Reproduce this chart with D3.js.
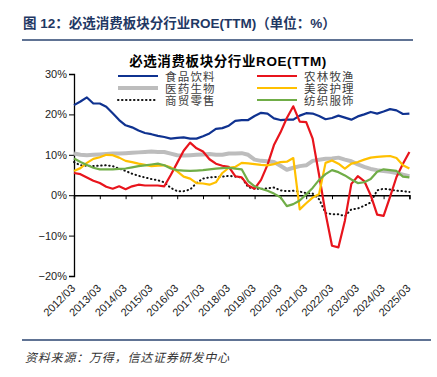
<!DOCTYPE html>
<html>
<head>
<meta charset="utf-8">
<script src="https://cdn.jsdelivr.net/npm/d3@7"></script>
<style>
  body { margin: 0; background: #fff; }
  svg text { font-family: Arial, "Liberation Sans", "Noto Sans CJK SC", sans-serif; }
</style>
</head>
<body>
<div class="chart"></div>
<script>
// quarterly, 2012/03 .. 2025/03
const yearLabels = ["2012/03","2013/03","2014/03","2015/03","2016/03","2017/03","2018/03",
    "2019/03","2020/03","2021/03","2022/03","2023/03","2024/03","2025/03"];
const yTicks = [-20, -10, 0, 10, 20, 30];

const food = [22.3,23.2,24.2,22.7,22.7,21.9,20.3,18.6,17.3,16.8,16.0,15.4,15.1,14.7,14.4,14.0,14.2,14.3,14.0,14.0,
    14.6,15.3,16.4,16.6,17.2,18.4,18.6,18.6,19.6,20.4,20.2,19.0,18.6,18.7,18.7,19.7,20.3,20.2,19.6,18.8,
    19.1,19.7,19.2,18.7,19.5,20.0,20.6,20.2,20.7,21.3,21.0,20.1,20.2];
const pharma = [10.3,10.0,9.9,10.0,10.1,10.2,10.3,10.3,10.4,10.5,10.6,10.7,10.8,10.7,10.7,10.3,9.9,9.8,9.9,10.0,
    10.1,10.2,10.0,10.0,10.3,10.3,10.4,10.0,8.8,8.5,8.4,8.2,7.3,6.3,6.8,7.2,7.4,8.5,8.8,9.0,
    9.1,9.3,8.8,8.4,7.6,7.0,6.5,6.2,6.0,5.8,5.5,5.1,4.7];
const retail = [8.2,7.4,7.3,7.2,7.3,7.4,7.2,6.6,6.0,5.3,4.8,4.4,4.0,3.7,3.2,1.8,1.0,1.0,1.4,3.0,
    4.1,4.4,4.5,4.6,4.8,4.6,4.4,2.0,1.6,1.6,1.7,1.9,1.2,1.0,1.1,0.9,0.5,0.4,-1.0,-4.4,
    -4.7,-4.7,-5.2,-3.5,-3.3,-2.6,-1.8,1.2,1.6,1.4,1.1,1.0,0.8];
const agri = [5.5,5.2,4.4,3.6,3.0,2.1,1.6,2.2,1.5,2.2,2.6,2.4,2.4,2.4,2.2,5.0,8.0,11.0,13.0,11.6,
    10.8,8.9,7.8,7.3,7.0,4.7,4.4,2.4,1.6,3.8,7.5,12.4,15.5,19.1,22.0,18.2,18.1,14.0,5.0,-4.5,
    -12.5,-12.9,-6.3,2.8,4.7,3.5,0.0,-4.8,-5.1,-0.4,4.5,7.8,10.7];
const beauty = [6.0,6.7,8.0,9.0,9.4,10.0,9.9,9.3,8.5,8.2,7.8,7.5,7.2,7.3,7.4,6.9,5.9,4.6,4.1,3.0,
    2.9,2.6,3.2,5.5,6.8,7.0,8.0,7.9,7.7,7.5,7.4,7.7,8.2,8.3,9.2,-3.5,-2.0,-0.6,0.3,8.0,
    8.6,7.8,6.6,7.8,8.2,8.8,9.3,9.5,9.6,9.7,9.2,7.4,6.6];
const textile = [9.1,8.2,7.5,6.8,6.4,6.4,6.4,6.5,6.6,6.9,7.2,7.4,7.6,7.8,7.4,6.6,6.2,6.1,6.0,6.1,
    6.2,6.4,6.6,6.7,6.8,6.6,6.4,3.5,2.2,1.6,1.1,0.4,-0.5,-2.7,-2.2,-1.3,0.2,1.8,3.8,5.2,
    6.2,5.7,4.9,3.9,3.0,3.2,4.0,5.8,6.4,6.2,6.0,4.6,4.4];

const series = [
    { name: "食品饮料", values: food, color: "#0f3290", width: 2.2 },
    { name: "医药生物", values: pharma, color: "#bdbdbd", width: 4 },
    { name: "商贸零售", values: retail, color: "#111", width: 2, dash: "0.5,3.5" },
    { name: "农林牧渔", values: agri, color: "#e8141c", width: 2.2 },
    { name: "美容护理", values: beauty, color: "#ffc000", width: 2.2 },
    { name: "纺织服饰", values: textile, color: "#70ad47", width: 2.2 }
];

const width = 437, height = 377;
const svg = d3.select(".chart").append("svg")
    .attr("width", width).attr("height", height);

// header
svg.append("text").attr("x", 23).attr("y", 28)
    .attr("font-size", 13.5).attr("font-weight", "bold").attr("fill", "#1f3864")
    .text("图 12：必选消费板块分行业ROE(TTM)（单位：%）");
svg.append("line").attr("x1", 22).attr("x2", 413).attr("y1", 40).attr("y2", 40)
    .attr("stroke", "#2b4470").attr("stroke-width", 1.5);

svg.append("text").attr("x", 228).attr("y", 66).attr("text-anchor", "middle")
    .attr("font-size", 13.5).attr("font-weight", "bold").attr("fill", "#000")
    .attr("letter-spacing", 0.6)
    .text("必选消费板块分行业ROE(TTM)");

// scales
const x = d3.scaleLinear().domain([0, 52]).range([74, 409.4]);
const y = d3.scaleLinear().domain([-20, 30]).range([276, 74]);

// y axis
const yAxis = d3.axisLeft(y).tickValues(yTicks).tickSize(5)
    .tickFormat(d => d3.format(".0%")(d / 100));
svg.append("g").attr("class", "y-axis")
    .attr("transform", "translate(74,0)")
    .call(yAxis)
    .call(g => g.select(".domain").attr("stroke", "#000").attr("stroke-width", 1.3))
    .call(g => g.selectAll("text").attr("font-size", 11).attr("fill", "#222").attr("x", -7));

// x axis on zero line
const xAxis = d3.axisBottom(x).tickValues(d3.range(0, 53, 4)).tickSize(4).tickFormat("");
svg.append("g").attr("class", "x-axis")
    .attr("transform", `translate(0,${y(0)})`)
    .call(xAxis)
    .call(g => g.select(".domain").attr("stroke", "#000").attr("stroke-width", 1.5));

// x labels at the bottom
svg.append("g").selectAll("text")
    .data(yearLabels)
    .join("text")
    .attr("transform", (d, i) => `translate(${x(i * 4) + 2},289) rotate(-45)`)
    .attr("text-anchor", "end")
    .attr("font-size", 11).attr("fill", "#222")
    .text(d => d);

// lines
const line = d3.line().x((d, i) => x(i)).y(d => y(d));
svg.append("g").selectAll("path")
    .data(series)
    .join("path")
    .attr("d", d => line(d.values))
    .attr("fill", "none")
    .attr("stroke", d => d.color)
    .attr("stroke-width", d => d.width)
    .attr("stroke-dasharray", d => d.dash || null)
    .attr("stroke-linejoin", "round")
    .attr("stroke-linecap", d => d.dash ? "round" : "butt");

// legend
const legend = svg.append("g").selectAll("g")
    .data(series)
    .join("g")
    .attr("transform", (d, i) => `translate(${i < 3 ? 118 : 257},${76 + (i % 3) * 12})`);
legend.append("line")
    .attr("x1", 0).attr("x2", 40)
    .attr("stroke", d => d.color)
    .attr("stroke-width", d => d.width)
    .attr("stroke-dasharray", d => d.dash || null)
    .attr("stroke-linecap", d => d.dash ? "round" : "butt");
legend.append("text")
    .attr("x", 47).attr("y", 4.5)
    .attr("font-size", 11.5).attr("fill", "#404040")
    .attr("letter-spacing", 1.2)
    .text(d => d.name);

// footer
svg.append("line").attr("x1", 22).attr("x2", 431).attr("y1", 340).attr("y2", 340)
    .attr("stroke", "#2b4470").attr("stroke-width", 1.5);
svg.append("text").attr("x", 25).attr("y", 362)
    .attr("font-size", 12).attr("font-style", "italic").attr("fill", "#333")
    .attr("letter-spacing", 0.8)
    .text("资料来源：万得，信达证券研发中心");
</script>
</body>
</html>
